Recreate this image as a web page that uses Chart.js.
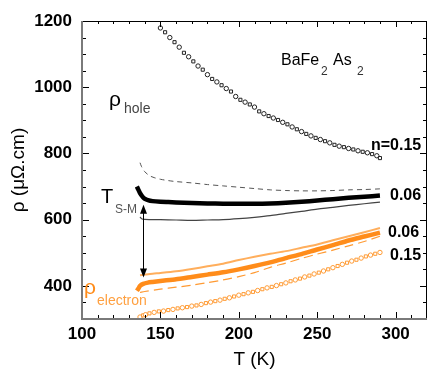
<!DOCTYPE html>
<html><head><meta charset="utf-8">
<script src="https://cdn.jsdelivr.net/npm/chart.js@4.4.0/dist/chart.umd.min.js"></script>
<style>html,body{margin:0;padding:0;background:#fff}</style>
</head><body>
<canvas id="c" width="436" height="381" style="display:block;width:436px;height:381px"></canvas>
<script>
// ---- data ----
const xTicks = [100, 150, 200, 250, 300];
const yTicks = [400, 600, 800, 1000, 1200];

// rho_hole, n = 0.15 (open symbols)
const holeN015T = [150,153,156,159,162,165,168,171,174,177,180,183,186,189,192,195,198,201,204,207,210,213,216,219,222,225,228,231,234,237,240,243,246,249,252,255,258,261,264,267,270,273,276,279,282,285,288,290];
const holeN015  = [1179,1166,1150,1136,1121,1104,1092,1078,1064,1053,1038,1025,1016,1006,996,987,972,962,955,948,940,927,920,913,907,901,894,888,880,873,866,859,853,847,842,837,832,826,822,819,815,812,808,805,802,798,793,786];

// rho_hole, n = 0.06 (thick black)
const holeN006T = [135,136,137,138,139,140,142,145,150,155,160,170,180,190,200,210,220,230,240,250,260,270,280,290];
const holeN006  = [700,690,680,673,667,663,659,656,654,653,652,650,649,648,648,648,649,651,654,658,662,666,669,673];

// black dashed curve
const blackDashT = [137,138,140,143,146,150,155,160,170,180,190,200,210,220,230,240,250,260,270,280,290];
const blackDash  = [772,760,745,733,727,722,718,715,711,706,702,698,694,690,688,687,687,688,690,691,693];

// black thin solid curve
const blackThinT = [137,138,140,150,160,170,180,190,200,210,220,230,240,250,260,270,280,290];
const blackThin  = [608,603,601,600,599,598,599,600,603,607,612,619,625,632,637,643,648,653];

// rho_electron thin upper curve
const orangeThinT = [137,140,145,150,160,170,180,190,200,210,220,230,240,250,260,270,280,290];
const orangeThin  = [432,434,437,439,444,451,459,467,478,488,497,505,515,525,538,550,562,575];

// rho_electron, n = 0.06 (thick orange)
const elecN006T = [135,136,137,139,142,145,150,160,170,180,190,200,210,220,230,240,250,260,270,280,290];
const elecN006  = [385,392,400,406,410,412,415,420,427,434,441,450,460,471,484,496,510,523,537,549,561];

// orange dashed curve
const orangeDashT = [137,140,150,160,170,180,190,200,210,220,230,240,250,260,270,280,290];
const orangeDash  = [380,383,390,396,402,410,418,428,440,456,469,483,496,508,521,534,550];

// rho_electron, n = 0.15 (open symbols)
const elecN015T = [137,139,140.5,143,146,149,152,155,158,161,164,167,170,173,176,179,182,185,188,191,194,197,200,203,206,209,212,215,218,221,224,227,230,233,236,239,242,245,248,251,254,257,260,263,266,269,272,275,278,281,284,287,290];
const elecN015  = [306,311,313,317,320,323,324,327,329,332,334,336,339,341,344,348,351,354,357,361,364,368,372,375,379,382,386,390,394,397,401,405,409,414,418,422,427,431,436,440,445,450,455,460,465,470,475,479,484,489,493,497,501];

// T_S-M arrow (T, rho from, rho to)
const arrowT = 139, arrowTop = 645, arrowBottom = 425;

// ---- helpers ----
const pts = (xs, ys) => xs.map((x, i) => ({x, y: ys[i]}));
const altStyles = n => Array.from({length: n}, (_, i) => i % 2 ? 'rect' : 'circle');

const FONT = '"Liberation Sans", Arial, sans-serif';

const decor = {
  id: 'decor',
  afterDatasetsDraw(chart) {
    const {ctx, chartArea: a, scales: {x, y}} = chart;
    ctx.save();
    // frame
    ctx.lineCap = 'butt';
    ctx.strokeStyle = '#000'; ctx.lineWidth = 1;
    ctx.beginPath(); ctx.moveTo(a.left, a.top + 0.5); ctx.lineTo(a.right, a.top + 0.5); ctx.stroke();
    ctx.beginPath(); ctx.moveTo(a.right - 0.5, a.top); ctx.lineTo(a.right - 0.5, a.bottom); ctx.stroke();
    ctx.strokeStyle = '#7a7a7a'; ctx.lineWidth = 2;
    ctx.beginPath(); ctx.moveTo(a.left, a.top); ctx.lineTo(a.left, a.bottom + 1); ctx.stroke();
    ctx.beginPath(); ctx.moveTo(a.left - 1, a.bottom); ctx.lineTo(a.right, a.bottom); ctx.stroke();
    // ticks (inward)
    ctx.strokeStyle = '#000'; ctx.lineWidth = 1;
    for (let v = 110; v < 320; v += 10) {
      const px = Math.round(x.getPixelForValue(v)) + 0.5;
      const len = v % 50 === 0 ? 6 : 3;
      ctx.beginPath(); ctx.moveTo(px, a.bottom - 1); ctx.lineTo(px, a.bottom - 1 - len); ctx.stroke();
      ctx.beginPath(); ctx.moveTo(px, a.top); ctx.lineTo(px, a.top + len); ctx.stroke();
    }
    for (let v = 350; v < 1200; v += 50) {
      const py = Math.round(y.getPixelForValue(v)) + 0.5;
      const len = v % 200 === 0 ? 6 : 3;
      ctx.beginPath(); ctx.moveTo(a.left + 1, py); ctx.lineTo(a.left + 1 + len, py); ctx.stroke();
      ctx.beginPath(); ctx.moveTo(a.right - 1, py); ctx.lineTo(a.right - 1 - len, py); ctx.stroke();
    }
    // arrow
    const ax = Math.round(x.getPixelForValue(arrowT)) + 0.5;
    const y1 = y.getPixelForValue(arrowTop), y2 = y.getPixelForValue(arrowBottom);
    ctx.strokeStyle = '#000'; ctx.fillStyle = '#000'; ctx.lineWidth = 1;
    ctx.beginPath(); ctx.moveTo(ax, y1 + 6); ctx.lineTo(ax, y2 - 6); ctx.stroke();
    ctx.beginPath(); ctx.moveTo(ax, y1); ctx.lineTo(ax - 3.5, y1 + 9); ctx.lineTo(ax + 3.5, y1 + 9); ctx.closePath(); ctx.fill();
    ctx.beginPath(); ctx.moveTo(ax, y2); ctx.lineTo(ax - 3.5, y2 - 9); ctx.lineTo(ax + 3.5, y2 - 9); ctx.closePath(); ctx.fill();

    // text annotations
    const t = (s, px, py, size, color, weight) => {
      ctx.font = (weight || 'normal') + ' ' + size + 'px ' + FONT;
      ctx.fillStyle = color; ctx.textAlign = 'left'; ctx.textBaseline = 'alphabetic';
      ctx.fillText(s, px, py);
    };
    t('BaFe', 281, 65, 16, '#000');
    t('2', 321, 75, 12, '#333');
    t('As', 333, 65, 16, '#000');
    t('2', 357, 75, 12, '#333');
    t('\u03C1', 109, 106, 21, '#000');
    t('hole', 124, 113, 14, '#444');
    t('T', 101, 203, 20, '#000');
    t('S-M', 115, 213, 12, '#555');
    t('\u03C1', 84, 294, 21, '#ff8c1a');
    t('electron', 97, 305, 14, '#ffa040');
    t('n=0.15', 371, 150, 16, '#000', 'bold');
    t('0.06', 390, 200, 16, '#000', 'bold');
    t('0.06', 388, 237, 16, '#000', 'bold');
    t('0.15', 390, 260, 16, '#000', 'bold');
    ctx.restore();
  }
};

new Chart(document.getElementById('c'), {
  type: 'line',
  data: {
    datasets: [
      {data: pts(blackDashT, blackDash), borderColor: '#555', borderWidth: 1, borderDash: [5, 4], pointRadius: 0, tension: 0.3},
      {data: pts(blackThinT, blackThin), borderColor: '#444', borderWidth: 1.2, pointRadius: 0, tension: 0.3},
      {data: pts(holeN006T, holeN006), borderColor: '#000', borderWidth: 4.5, pointRadius: 0, tension: 0.2},
      {data: pts(holeN015T, holeN015), showLine: false, pointStyle: altStyles(holeN015T.length), pointRadius: 2.2, pointBorderWidth: 1, pointBorderColor: '#222', pointBackgroundColor: '#fff'},
      {data: pts(orangeThinT, orangeThin), borderColor: '#ffae5c', borderWidth: 2, pointRadius: 0, tension: 0.3},
      {data: pts(orangeDashT, orangeDash), borderColor: '#ff9a33', borderWidth: 1.2, borderDash: [9, 5], pointRadius: 0, tension: 0.3},
      {data: pts(elecN006T, elecN006), borderColor: '#ff8c1a', borderWidth: 4.5, pointRadius: 0, tension: 0.2},
      {data: pts(elecN015T, elecN015), showLine: false, pointStyle: altStyles(elecN015T.length), pointRadius: 2.2, pointBorderWidth: 1, pointBorderColor: '#ff9a33', pointBackgroundColor: '#fff'}
    ]
  },
  options: {
    responsive: false, animation: false, devicePixelRatio: 1,
    layout: {padding: {left: 0, right: 9, top: 21, bottom: 0}},
    plugins: {legend: {display: false}, tooltip: {enabled: false}},
    scales: {
      x: {
        type: 'linear', min: 100, max: 320,
        afterBuildTicks: s => { s.ticks = xTicks.map(v => ({value: v})); },
        afterFit: s => { s.height = 62; },
        grid: {display: false, drawTicks: false}, border: {display: false},
        ticks: {padding: 5, color: '#000', font: {family: FONT, size: 17, weight: 'bold'}, maxRotation: 0, callback: v => String(v)},
        title: {display: true, text: 'T (K)', color: '#000', font: {family: FONT, size: 19}, padding: {top: 0, bottom: 10}}
      },
      y: {
        type: 'linear', min: 300, max: 1200,
        afterBuildTicks: s => { s.ticks = yTicks.map(v => ({value: v})); },
        afterFit: s => { s.width = 82; },
        grid: {display: false, drawTicks: false}, border: {display: false},
        ticks: {padding: 10, color: '#000', font: {family: FONT, size: 17, weight: 'bold'}, callback: v => String(v)},
        title: {display: true, text: '\u03C1 (\u03BC\u03A9.cm)', color: '#000', font: {family: FONT, size: 19}, padding: {top: 7, bottom: 0}}
      }
    }
  },
  plugins: [decor]
});
</script>
</body></html>
